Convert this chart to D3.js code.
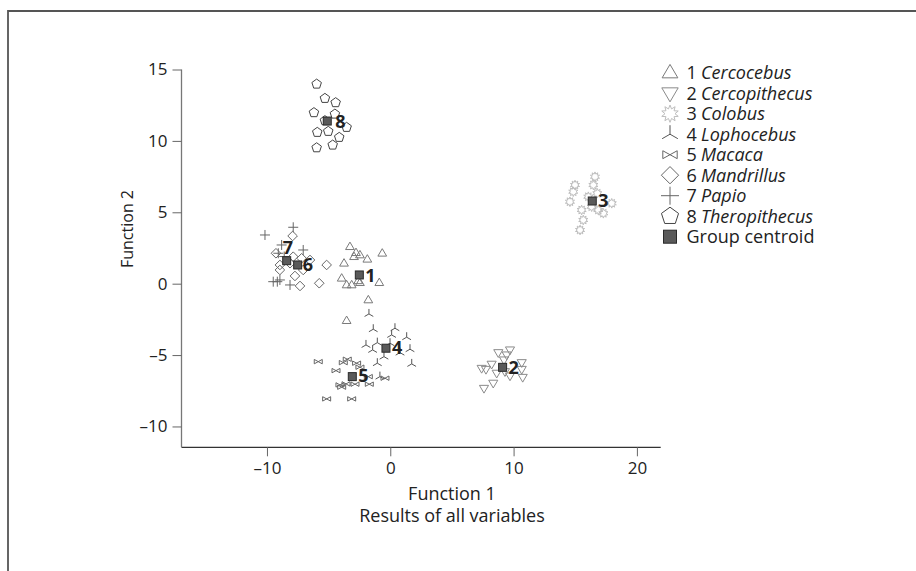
<!DOCTYPE html>
<html><head><meta charset="utf-8">
<script src="https://cdn.jsdelivr.net/npm/d3@7"></script>
<style>body{margin:0;background:#fff}svg{display:block}text{font-family:"Open Sans",sans-serif;fill:#222}</style>
</head><body><svg id="c" width="916" height="571"></svg>
<script>
// ---- data (Function 1, Function 2) ----
const cercocebus = [[-3.27,2.59],[-2.78,2.17],[-2.46,2.01],[-2.94,1.89],[-1.86,1.71],[-0.65,2.13],[-3.75,1.43],[-3.94,0.38],[-3.54,-0.09],[-3.13,-0.09],[-2.46,0.07],[-2.6,0.2],[-0.89,0.07],[-1.78,-1.14],[-3.54,-2.59]];
const cercopithecus = [[9.71,-4.64],[8.76,-4.83],[9.44,-4.99],[9.22,-5.34],[8.22,-5.64],[7.41,-5.93],[7.76,-6.0],[10.66,-5.53],[10.66,-6.0],[8.63,-6.27],[9.71,-6.46],[10.74,-6.56],[8.35,-6.97],[7.6,-7.33],[9.3,-6.16]];
const colobus = [[16.6,7.49],[16.47,6.91],[14.98,6.91],[14.84,6.44],[14.57,5.74],[16.06,6.09],[16.33,5.39],[17.96,5.63],[15.52,5.16],[16.87,5.16],[17.28,4.93],[15.65,4.46],[15.39,3.76],[16.79,6.33]];
const lophocebus = [[-1.73,-2.12],[-1.38,-3.19],[0.38,-3.12],[0.11,-3.59],[1.33,-3.75],[-1.97,-4.29],[-1.05,-4.13],[-0.02,-4.17],[1.6,-4.59],[-0.51,-5.11],[0.79,-4.83],[-1.05,-5.57],[1.74,-5.62],[-0.84,-6.51],[-1.43,-4.64]];
const macaca = [[-5.84,-5.46],[-3.81,-5.53],[-3.49,-5.29],[-2.73,-5.57],[-2.46,-5.85],[-4.4,-6.09],[-1.78,-6.51],[-0.43,-6.62],[-4.08,-7.09],[-3.59,-7.02],[-2.86,-7.04],[-1.7,-7.04],[-5.16,-8.07],[-3.13,-8.07],[-3.94,-7.25]];
const mandrillus = [[-7.92,3.34],[-9.27,2.13],[-7.87,1.89],[-7.19,1.78],[-6.51,1.66],[-8.95,1.31],[-5.16,1.31],[-8.95,0.96],[-7.06,0.96],[-7.73,0.54],[-5.76,0.03],[-7.32,-0.16],[-8.13,1.43]];
const papio = [[-7.87,3.95],[-10.16,3.41],[-8.81,2.71],[-7.06,2.36],[-9.08,2.13],[-9.16,0.14],[-8.95,0.26],[-8.13,-0.09],[-9.49,0.14],[-8.6,1.9]];
const theropithecus = [[-5.97,13.98],[-5.3,12.98],[-4.43,12.68],[-6.19,11.98],[-4.49,11.88],[-5.3,11.42],[-3.54,10.95],[-5.92,10.6],[-5.03,10.67],[-4.14,10.25],[-5.97,9.52],[-4.67,9.71]];
const centroidX = [-2.51, 9.11, 16.38, -0.35, -3.08, -7.51, -8.4, -5.11];
const centroidY = [0.61, -5.86, 5.79, -4.52, -6.51, 1.31, 1.61, 11.39];
const groupNumbers = ["1","2","3","4","5","6","7","8"];
const genusNames = ["Cercocebus","Cercopithecus","Colobus","Lophocebus","Macaca","Mandrillus","Papio","Theropithecus"];
const xTicks = [-10, 0, 10, 20];
const yTicks = [-10, -5, 0, 5, 10, 15];

// ---- shapes ----
const shapes = {
  triUp: r => `M0,${-r}L${0.95*r},${0.62*r}L${-0.95*r},${0.62*r}Z`,
  triDown: r => `M0,${r}L${0.95*r},${-0.62*r}L${-0.95*r},${-0.62*r}Z`,
  burst: r => { let p=[]; const n=10; for(let i=0;i<2*n;i++){const a=Math.PI*i/n-Math.PI/2; const rr=i%2?0.58*r:r; p.push([rr*Math.cos(a),rr*Math.sin(a)]);} return "M"+p.map(d=>d[0].toFixed(2)+","+d[1].toFixed(2)).join("L")+"Z"; },
  tristar: r => `M0,0L0,${-r}M0,0L${-0.87*r},${0.5*r}M0,0L${0.87*r},${0.5*r}`,
  bowtie: r => `M${-r},${-0.55*r}L${r},${0.55*r}L${r},${-0.55*r}L${-r},${0.55*r}Z`,
  diamond: r => `M0,${-r}L${r},0L0,${r}L${-r},0Z`,
  plus: r => `M${-r},0L${r},0M0,${-r}L0,${r}`,
  pentagon: r => { let p=[]; for(let i=0;i<5;i++){const a=-Math.PI/2+i*2*Math.PI/5; p.push([r*Math.cos(a),r*Math.sin(a)]);} return "M"+p.map(d=>d[0].toFixed(2)+","+d[1].toFixed(2)).join("L")+"Z"; }
};
const groups = [
  {pts:cercocebus, shape:"triUp", r:4.6, color:"#7a7a7a"},
  {pts:cercopithecus, shape:"triDown", r:4.8, color:"#8a8a8a"},
  {pts:colobus, shape:"burst", r:4.8, color:"#bdbdbd"},
  {pts:lophocebus, shape:"tristar", r:5, color:"#555"},
  {pts:macaca, shape:"bowtie", r:4, color:"#666"},
  {pts:mandrillus, shape:"diamond", r:4.8, color:"#666"},
  {pts:papio, shape:"plus", r:5, color:"#666"},
  {pts:theropithecus, shape:"pentagon", r:5, color:"#444"}
];
const labelOff = [[6,7],[6,7],[6,6],[6,6],[6,5],[5,6],[-4,-7],[8,7]];

const svg = d3.select("#c");
// frame
svg.append("path").attr("d","M8,571L8,11L916,11").attr("fill","none").attr("stroke","#555").attr("stroke-width",1.8);

const x = d3.scaleLinear().domain([-16.93, 21.93]).range([181.5, 660.7]);
const y = d3.scaleLinear().domain([-11.46, 15]).range([447.3, 69.5]);

// axes
const xa = svg.append("g").attr("transform","translate(0,447.3)").call(d3.axisBottom(x).tickValues(xTicks).tickSize(9).tickPadding(6).tickFormat(d=>d<0?"\u2013"+Math.abs(d):d));
xa.select(".domain").attr("d",`M${x.range()[0]},0H${x.range()[1]}`).attr("stroke","#333").attr("stroke-width",1.3);
xa.selectAll(".tick line").attr("stroke","#666");
xa.selectAll(".tick text").attr("font-size",17).attr("fill","#222").attr("font-family","Open Sans");

const ya = svg.append("g").attr("transform","translate(181.5,0)").call(d3.axisLeft(y).tickValues(yTicks).tickSize(9).tickPadding(5).tickFormat(d=>d<0?"\u2013"+Math.abs(d):d));
ya.select(".domain").attr("d",`M0,${y(-11.46)}V${y(15)}`).attr("stroke","#777").attr("stroke-width",1.3);
ya.selectAll(".tick line").attr("stroke","#666");
ya.selectAll(".tick text").attr("font-size",17).attr("fill","#222").attr("font-family","Open Sans");

svg.append("text").attr("x",452).attr("y",500).attr("text-anchor","middle").attr("font-size",18).text("Function 1");
svg.append("text").attr("x",452).attr("y",522).attr("text-anchor","middle").attr("font-size",18).text("Results of all variables");
svg.append("text").attr("transform","translate(133,229) rotate(-90)").attr("text-anchor","middle").attr("font-size",16).text("Function 2");

// points
groups.forEach(g=>{
  svg.append("g").selectAll("path").data(g.pts).join("path")
    .attr("transform",d=>`translate(${x(d[0])},${y(d[1])})`)
    .attr("d",shapes[g.shape](g.r))
    .attr("fill","none")
    .attr("stroke",g.color).attr("stroke-width",1);
});

// centroids
const cg = svg.append("g");
centroidX.forEach((cx,i)=>{
  const px=x(cx), py=y(centroidY[i]);
  cg.append("rect").attr("x",px-4).attr("y",py-4).attr("width",8).attr("height",8).attr("fill","#5a5a5a").attr("stroke","#2a2a2a").attr("stroke-width",1);
  cg.append("text").attr("x",px+labelOff[i][0]).attr("y",py+labelOff[i][1]).attr("font-size",18).attr("font-weight","bold").attr("fill","#1a1a1a").text(groupNumbers[i]);
});

// legend
const lg = svg.append("g");
const lx = 670, ly0 = 72.7, dy = 20.5;
groups.forEach((g,i)=>{
  const cy = ly0 + i*dy;
  lg.append("path").attr("transform",`translate(${lx},${cy})`).attr("d",shapes[g.shape](g.r*1.8))
    .attr("fill","none").attr("stroke",g.color).attr("stroke-width",1);
  lg.append("text").attr("x",686.5).attr("y",cy+6.3).attr("font-size",18).text(groupNumbers[i]);
  lg.append("text").attr("x",701).attr("y",cy+6.3).attr("font-size",18).attr("font-style","italic").text(genusNames[i]);
});
const cyG = ly0 + 8*dy;
lg.append("rect").attr("x",lx-6.5).attr("y",cyG-6.5).attr("width",13).attr("height",13).attr("fill","#5a5a5a").attr("stroke","#2a2a2a");
lg.append("text").attr("x",686.5).attr("y",cyG+6.3).attr("font-size",18).text("Group centroid");
</script></body></html>
